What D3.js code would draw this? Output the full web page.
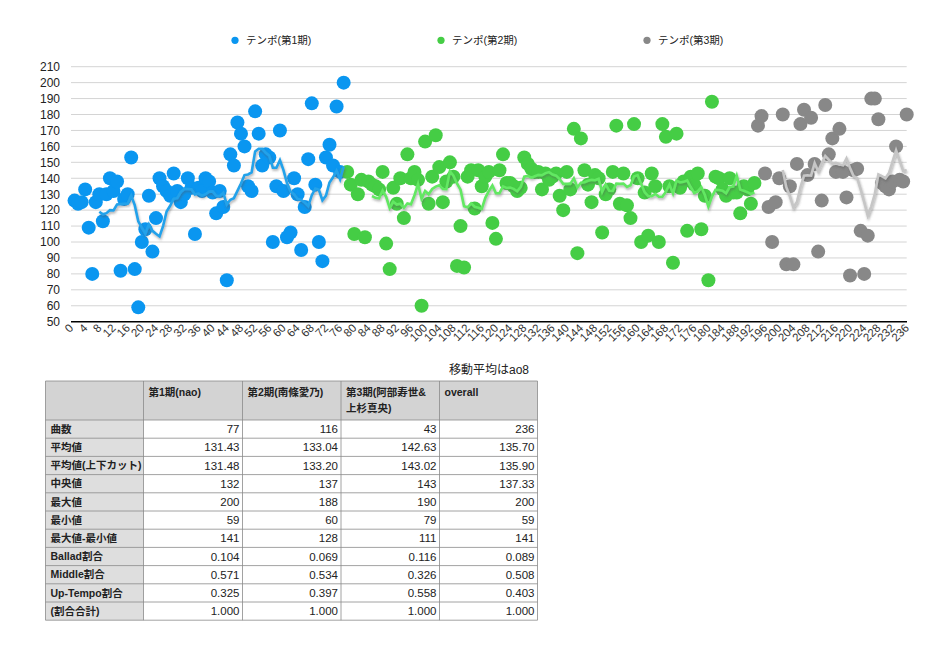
<!DOCTYPE html>
<html>
<head>
<meta charset="utf-8">
<script src="https://cdn.jsdelivr.net/npm/d3@7"></script>
<style>
  html, body { margin: 0; padding: 0; background: #fff; }
  svg { display: block; }
  text { font-family: "Liberation Sans", Arial, "Noto Sans CJK JP", sans-serif; }
  .jp { font-family: "Liberation Sans", "Noto Sans CJK JP", sans-serif; }
</style>
</head>
<body>
<svg id="chart" width="950" height="652"></svg>
<script>
// ---------------- DATA ----------------
const seriesNames = ["テンポ(第1期)", "テンポ(第2期)", "テンポ(第3期)"];
const seriesStart = [1, 78, 194];

const tempo1 = [126,124,125,133,109,80,125,130,113,130,
  140,132,138,82,127,130,153,83,59,100,
  108,129,94,115,140,135,132,129,143,132,
  125,130,140,134,105,134,132,140,138,131,
  118,132,122,76,155,148,175,168,160,135,
  132,182,168,148,155,153,100,135,170,132,
  103,106,140,130,95,122,152,187,136,100,
  88,153,161,148,185,144,200];

const tempo2 = [144,136,105,130,139,103,138,136,135,133,
  144,99,83,134,124,140,115,155,140,144,
  139,60,163,124,141,167,147,125,138,150,
  141,85,110,84,141,145,121,145,135,141,
  144,112,102,145,155,137,137,135,132,134,
  153,149,146,144,144,133,143,139,141,143,
  129,120,144,133,171,93,165,145,136,125,
  142,140,106,130,133,144,173,124,143,123,
  115,174,140,100,131,104,143,135,100,174,
  166,135,87,168,134,138,107,141,136,143,
  108,129,76,188,141,140,133,129,140,131,
  131,118,135,133,124,137];

const tempo3 = [173,179,143,122,100,125,140,180,86,135,
  86,149,174,183,142,178,149,94,126,186,
  155,165,144,171,144,128,79,145,146,107,
  80,104,190,190,177,137,135,133,138,160,
  139,138,180];

const movingWindow = 8;

const yTicks = [50,60,70,80,90,100,110,120,130,140,150,160,170,180,190,200,210];
const xTicks = d3.range(0, 237, 4);

const noteText = "移動平均はao8";

const tableHeader = ["", "第1期(nao)", "第2期(南條愛乃)", "第3期(阿部寿世&\n上杉真央)", "overall"];
const tableRowLabels = ["曲数","平均値","平均値(上下カット)","中央値","最大値","最小値","最大値-最小値","Ballad割合","Middle割合","Up-Tempo割合","(割合合計)"];
const tableCol1 = ["77","131.43","131.48","132","200","59","141","0.104","0.571","0.325","1.000"];
const tableCol2 = ["116","133.04","133.20","137","188","60","128","0.069","0.534","0.397","1.000"];
const tableCol3 = ["43","142.63","143.02","143","190","79","111","0.116","0.326","0.558","1.000"];
const tableCol4 = ["236","135.70","135.90","137.33","200","59","141","0.089","0.508","0.403","1.000"];

// ---------------- STYLE ----------------
const dotColors = ["#0a96f0", "#45cd45", "#888888"];
const lineColors = ["#22a2ea", "#62e862", "#c6c6c6"];

const svg = d3.select("#chart");
const defs = svg.append("defs");
const f = defs.append("filter").attr("id","shadow").attr("x","-5%").attr("y","-20%").attr("width","110%").attr("height","140%");
f.append("feDropShadow").attr("dx",0.8).attr("dy",1.8).attr("stdDeviation",1.0)
  .attr("flood-color","#555").attr("flood-opacity",0.45);

const x = d3.scaleLinear().domain([0, 236]).range([71, 906.7]);
const y = d3.scaleLinear().domain([50, 210]).range([321.7, 66.7]);

// gridlines
svg.append("g").selectAll("line").data(yTicks.filter(d => d > 50)).join("line")
  .attr("x1", 71).attr("x2", 906.7)
  .attr("y1", d => y(d)).attr("y2", d => y(d))
  .attr("stroke", "#d4d4d4").attr("stroke-width", 1);

// y labels
svg.append("g").selectAll("text").data(yTicks).join("text")
  .attr("x", 60).attr("y", d => y(d)).attr("dy", "0.36em")
  .attr("text-anchor", "end").attr("font-size", 12).attr("fill", "#222")
  .text(d => d);

// x axis line
svg.append("line").attr("x1", 71).attr("x2", 907).attr("y1", y(50)).attr("y2", y(50))
  .attr("stroke", "#000").attr("stroke-width", 1.5);

// x labels
svg.append("g").selectAll("text").data(xTicks).join("text")
  .attr("transform", d => `translate(${x(d) + 3},${y(50) + 7}) rotate(-45)`)
  .attr("text-anchor", "end").attr("font-size", 11.5).attr("fill", "#333")
  .text(d => d);

// points
const allSeries = [tempo1, tempo2, tempo3];
allSeries.forEach((vals, s) => {
  svg.append("g").selectAll("circle").data(vals).join("circle")
    .attr("cx", (d, i) => x(seriesStart[s] + i))
    .attr("cy", d => y(d))
    .attr("r", 7)
    .attr("fill", dotColors[s]);
});

// moving averages (trendline computed from the series, window 8)
allSeries.forEach((vals, s) => {
  const pts = [];
  for (let i = movingWindow - 1; i < vals.length; i++) {
    pts.push([seriesStart[s] + i, d3.mean(vals.slice(i - movingWindow + 1, i + 1))]);
  }
  svg.append("path").datum(pts)
    .attr("d", d3.line().x(d => x(d[0])).y(d => y(d[1])))
    .attr("fill", "none").attr("stroke", lineColors[s]).attr("stroke-width", 2.6)
    .attr("stroke-linejoin", "miter")
    .attr("filter", "url(#shadow)");
});

// legend
const legendX = [235, 441, 647];
const lg = svg.append("g");
seriesNames.forEach((n, s) => {
  lg.append("circle").attr("cx", legendX[s]).attr("cy", 40.3).attr("r", 3.6).attr("fill", dotColors[s]);
  lg.append("text").attr("class","jp").attr("x", legendX[s] + 11).attr("y", 40.3).attr("dy", "0.36em")
    .attr("font-size", 10.5).attr("fill", "#222").text(n);
});

// note
svg.append("text").attr("class","jp").attr("x", 529).attr("y", 370).attr("dy","0.36em")
  .attr("text-anchor","end").attr("font-size", 12).attr("fill","#222").text(noteText);

// table
const colX = [45.5, 143.5, 242.5, 341, 439.5, 537.5];
const headerTop = 381, headerBottom = 420, rowH = 18.2;
const tg = svg.append("g");
const cols = [tableCol1, tableCol2, tableCol3, tableCol4];
// backgrounds
tg.append("rect").attr("x", colX[0]).attr("y", headerTop).attr("width", colX[5]-colX[0]).attr("height", headerBottom-headerTop).attr("fill", "#d3d3d3");
tg.append("rect").attr("x", colX[0]).attr("y", headerBottom).attr("width", colX[1]-colX[0]).attr("height", rowH*tableRowLabels.length).attr("fill", "#dedede");
// grid lines
const tableBottom = headerBottom + rowH * tableRowLabels.length;
const hLines = [headerTop, headerBottom].concat(tableRowLabels.map((d,i)=> headerBottom + rowH*(i+1)));
tg.selectAll("line.h").data(hLines).join("line")
  .attr("x1", colX[0]).attr("x2", colX[5]).attr("y1", d=>d).attr("y2", d=>d)
  .attr("stroke", "#8a8a8a").attr("stroke-width", 0.8);
tg.selectAll("line.v").data(colX).join("line")
  .attr("x1", d=>d).attr("x2", d=>d).attr("y1", headerTop).attr("y2", tableBottom)
  .attr("stroke", "#8a8a8a").attr("stroke-width", 0.8);
// header text
tableHeader.forEach((h, c) => {
  if (!h) return;
  h.split("\n").forEach((line, k) => {
    tg.append("text").attr("class","jp").attr("x", colX[c] + 5).attr("y", headerTop + 15 + k*16)
      .attr("font-size", 10.5).attr("font-weight", "bold").attr("fill", "#222").text(line);
  });
});
// row labels
tableRowLabels.forEach((r, i) => {
  tg.append("text").attr("class","jp").attr("x", colX[0] + 5).attr("y", headerBottom + rowH*i + rowH/2).attr("dy","0.36em")
    .attr("font-size", 10.5).attr("font-weight", "bold").attr("fill", "#222").text(r);
});
// values
cols.forEach((col, c) => {
  col.forEach((v, i) => {
    tg.append("text").attr("x", colX[c+2] - 3).attr("y", headerBottom + rowH*i + rowH/2).attr("dy","0.36em")
      .attr("text-anchor","end").attr("font-size", 11.5).attr("fill", "#222").text(v);
  });
});
</script>
</body>
</html>
